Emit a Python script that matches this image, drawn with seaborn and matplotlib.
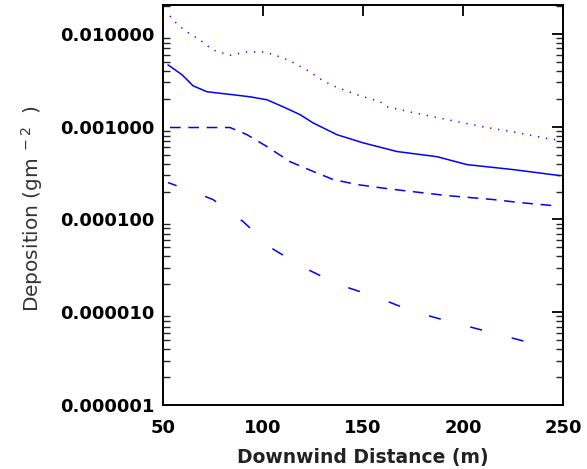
import numpy as np
import pandas as pd
import matplotlib
matplotlib.use("Agg")
import matplotlib.pyplot as plt
import seaborn as sns
from matplotlib.ticker import FixedLocator, LogLocator, NullFormatter, FormatStrFormatter

# ---- data ----
x_dot = [53.5, 57, 62, 68.5, 75, 83.5, 92, 101, 108.5, 113.5, 123.5, 128.5, 135, 147, 158.5,
         162, 175, 185, 202, 212, 225, 240, 247]
y_dot = [0.0156, 0.0128, 0.0105, 0.0086, 0.0067, 0.0059, 0.0064, 0.0064, 0.00566, 0.00513,
         0.0039, 0.00328, 0.00276, 0.00221, 0.00186, 0.00164, 0.00142, 0.00128, 0.00108,
         0.00098, 0.00088, 0.00076, 0.00072]

x_solid = [52.5, 59.5, 65, 72, 85, 93.5, 102, 110, 118.5, 125, 137, 150, 167, 187, 202, 225, 248.5]
y_solid = [0.00464, 0.00363, 0.00276, 0.00238, 0.00221, 0.0021, 0.00195, 0.00164, 0.00135,
           0.0011, 0.00082, 0.00067, 0.00054, 0.000475, 0.00039, 0.000345, 0.000297]

x_dash = [53.5, 83.5, 92, 102, 113.5, 125, 135, 147, 158.5, 170, 192, 215, 228.5, 245]
y_dash = [0.00098, 0.00098, 0.00082, 0.00061, 0.00042, 0.00033, 0.00027, 0.000238, 0.00022,
          0.000205, 0.000181, 0.000164, 0.000152, 0.000141]

x_low = [52.5, 59.5, 75, 90, 105, 119.5, 137.5, 157, 175, 194.5, 213.5, 232.5, 242]
y_low = [0.00025, 0.00022, 0.000164, 0.000095, 4.8e-5, 3.1e-5, 2.0e-5, 1.45e-5, 1.02e-5,
         7.8e-6, 6.1e-6, 4.75e-6, 4.6e-6]

x_ticks = [50, 100, 150, 200, 250]
y_ticks = [1e-6, 1e-5, 1e-4, 1e-3, 1e-2]

sns.set_style("white")
plt.rcParams['font.family'] = ['DejaVu Sans']

fig = plt.figure(figsize=(5.87, 4.69), dpi=100)
ax = fig.add_axes([163/587, 1-405/469, 400/587, 400/469])

blue = '#0000ff'
sns.lineplot(x=x_dot, y=y_dot, ax=ax, color=blue, lw=1.1, linestyle=(0, (0.8, 4.5)))
sns.lineplot(x=x_solid, y=y_solid, ax=ax, color=blue, lw=1.1, linestyle='-')
sns.lineplot(x=x_dash, y=y_dash, ax=ax, color=blue, lw=1.1, linestyle=(0, (7, 5)))
sns.lineplot(x=x_low, y=y_low, ax=ax, color=blue, lw=1.1, linestyle=(2, (8, 20)))

ax.set_yscale('log')
ax.set_xlim(50, 250)
ax.set_ylim(1e-6, 0.0205)
ax.xaxis.set_major_locator(FixedLocator(x_ticks))
ax.yaxis.set_major_locator(FixedLocator(y_ticks))
ax.yaxis.set_major_formatter(FormatStrFormatter('%.6f'))
ax.yaxis.set_minor_locator(LogLocator(base=10, subs=np.arange(2, 10)))
ax.yaxis.set_minor_formatter(NullFormatter())

for s in ax.spines.values():
    s.set_linewidth(1.4)
    s.set_color('black')
    s.set_visible(True)

ax.tick_params(axis='both', which='major', direction='in', length=8, width=1.3,
               top=True, right=True, labelsize=13, pad=6, colors='black')
ax.tick_params(axis='x', which='major', pad=10)
ax.tick_params(axis='y', which='minor', direction='in', length=5, width=1.0,
               left=True, right=True)
for lab in ax.get_xticklabels() + ax.get_yticklabels():
    lab.set_fontweight('bold')

ax.set_xlabel('Downwind Distance (m)', fontsize=13.5, fontweight='bold', color='#222222', labelpad=8)
ax.set_ylabel('Deposition (gm$^{\\ -2}$  )', fontsize=14.5, color='#333333', labelpad=9)
ax.yaxis.set_label_coords(-0.295, 0.49)

fig.savefig('out.png', dpi=100)
